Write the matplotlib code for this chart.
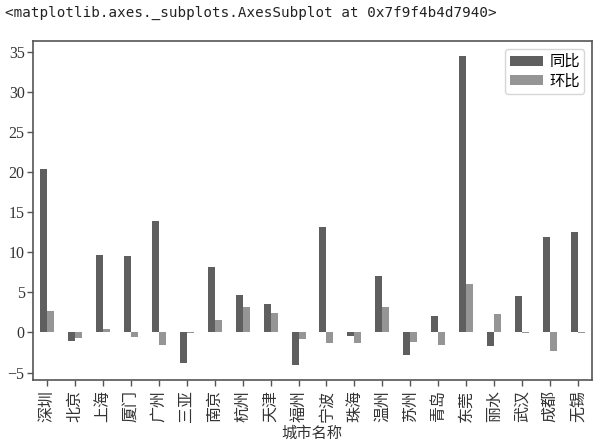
import matplotlib
matplotlib.use("Agg")
import matplotlib.pyplot as plt
import numpy as np

cities = ["深圳", "北京", "上海", "厦门", "广州", "三亚", "南京", "杭州", "天津", "福州",
          "宁波", "珠海", "温州", "苏州", "青岛", "东莞", "丽水", "武汉", "成都", "无锡"]
yoy = [20.4, -1.0, 9.7, 9.5, 13.9, -3.85, 8.1, 4.7, 3.6, -4.0,
       13.1, -0.4, 7.05, -2.75, 2.0, 34.4, -1.65, 4.5, 11.9, 12.5]
mom = [2.65, -0.7, 0.45, -0.5, -1.5, -0.05, 1.6, 3.15, 2.4, -0.8,
       -1.3, -1.3, 3.15, -1.15, -1.6, 6.05, 2.35, -0.1, -2.3, -0.1]
series_names = ["同比", "环比"]
colors = ["#5f5f5f", "#959595"]

plt.rcParams['font.family'] = ['Noto Sans CJK SC', 'DejaVu Sans']

fig = plt.figure(figsize=(6.0, 4.44), dpi=100)
ax = fig.add_axes([33/600, 1 - 380/444, (592-33)/600, (380-41)/444])

x = np.arange(len(cities))
w = 0.25
ax.bar(x - w/2, yoy, width=w, color=colors[0], label=series_names[0])
ax.bar(x + w/2, mom, width=w, color=colors[1], label=series_names[1])

ax.set_xlim(-0.5, len(cities) - 0.5)
ax.set_xticks(x)
ax.set_xticklabels(cities, rotation=90, fontsize=11.5, color="#333333")
ax.set_yticks([-5, 0, 5, 10, 15, 20, 25, 30, 35])
for lab in ax.get_yticklabels():
    lab.set_family("Liberation Serif")
    lab.set_fontsize(11.5)
    lab.set_color("#333333")

for s in ax.spines.values():
    s.set_color("#555555")
    s.set_linewidth(1.2)
ax.tick_params(direction="out", length=4, width=1, color="#555555", pad=2)
ax.tick_params(axis="x", pad=3)

leg = ax.legend(loc="upper right", fontsize=11, handlelength=2.2, handleheight=0.6,
                labelspacing=0.15, borderpad=0.3, handletextpad=0.4, fancybox=True)
leg.get_frame().set_edgecolor("#cccccc")

fig.text(312/600, 1 - 433/444, "城市名称", fontsize=11, color="#333333",
         ha="center", va="center")

fig.text(5/600, 1 - 13/444, "<matplotlib.axes._subplots.AxesSubplot at 0x7f9f4b4d7940>",
         family="DejaVu Sans Mono", fontsize=10.3, color="#222222", va="center", ha="left")

fig.savefig("out.png", dpi=100)
